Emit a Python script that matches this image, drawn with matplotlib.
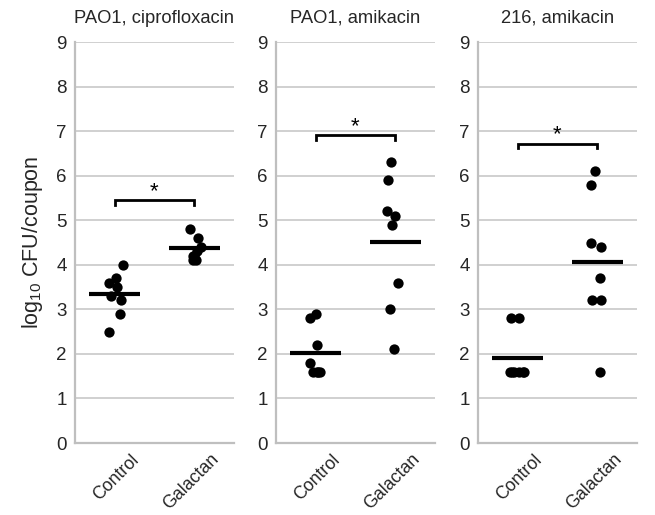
import matplotlib
matplotlib.use("Agg")
import matplotlib.pyplot as plt
import numpy as np

plt.rcParams['font.family'] = ['Liberation Sans', 'DejaVu Sans']
plt.rcParams['mathtext.fontset'] = 'custom'
plt.rcParams['mathtext.rm'] = 'Liberation Sans'
plt.rcParams['mathtext.it'] = 'Liberation Sans:italic'
plt.rcParams['mathtext.bf'] = 'Liberation Sans:bold'

titles = ["PAO1, ciprofloxacin", "PAO1, amikacin", "216, amikacin"]
categories = ["Control", "Galactan"]
cat_pos = [0.5, 1.5]

# per panel: control values / x offsets, galactan values / x offsets
ctrl_vals = [
    [2.5, 2.9, 3.2, 3.3, 3.5, 3.6, 3.7, 4.0],
    [2.8, 2.9, 2.2, 1.8, 1.6, 1.6, 1.6, 1.6],
    [2.8, 2.8, 1.6, 1.6, 1.6, 1.6, 1.6, 1.6],
]
ctrl_x = [
    [0.43, 0.56, 0.58, 0.45, 0.53, 0.43, 0.52, 0.60],
    [0.43, 0.50, 0.52, 0.43, 0.47, 0.51, 0.55, 0.53],
    [0.41, 0.52, 0.40, 0.45, 0.52, 0.58, 0.43, 0.56],
]
gal_vals = [
    [4.8, 4.6, 4.4, 4.2, 4.1, 4.1, 4.3, 4.2],
    [6.3, 5.9, 5.2, 5.1, 4.9, 3.6, 3.0, 2.1],
    [6.1, 5.8, 4.5, 4.4, 3.7, 3.2, 3.2, 1.6],
]
gal_x = [
    [1.45, 1.55, 1.58, 1.49, 1.48, 1.52, 1.54, 1.50],
    [1.45, 1.41, 1.40, 1.50, 1.46, 1.53, 1.43, 1.49],
    [1.47, 1.42, 1.42, 1.55, 1.54, 1.43, 1.55, 1.54],
]
ctrl_means = [3.34, 2.02, 1.91]
gal_means = [4.37, 4.51, 4.07]
bracket_y = [5.45, 6.91, 6.72]

lefts = [75/655, 276/655, 478/655]
bottom = (515-443)/515
width = 159/655
height = 401/515

fig = plt.figure(figsize=(6.55, 5.15), dpi=100)
gray = '#bfbfbf'
txt = '#262626'
for i in range(3):
    ax = fig.add_axes([lefts[i], bottom, width, height])
    ax.set_xlim(0, 2)
    ax.set_ylim(0, 9)
    ax.set_yticks(range(0, 10))
    ax.yaxis.grid(True, color='#c8c8c8', linewidth=1.2)
    ax.set_axisbelow(True)
    for s in ['top', 'right']:
        ax.spines[s].set_visible(False)
    for s in ['left', 'bottom']:
        ax.spines[s].set_color(gray)
        ax.spines[s].set_linewidth(1.6)
    ax.tick_params(length=0, labelsize=13.5, colors=txt, pad=6)
    ax.set_xticks(cat_pos)
    ax.set_xticklabels([])
    for xp, cat in zip(cat_pos, categories):
        ax.annotate(cat, xy=(xp, 0), xycoords=('data', 'axes fraction'),
                    xytext=(15.8, -10), textcoords='offset points',
                    rotation=45, ha='right', va='center', rotation_mode='anchor',
                    fontsize=12.8, color=txt, annotation_clip=False)
    ax.set_title(titles[i], fontsize=13.2, color=txt, pad=14)
    ax.scatter(ctrl_x[i], ctrl_vals[i], s=55, color='black', zorder=3, linewidths=0)
    ax.scatter(gal_x[i], gal_vals[i], s=55, color='black', zorder=3, linewidths=0)
    ax.plot([0.18, 0.82], [ctrl_means[i]]*2, color='black', lw=3.0, zorder=4, solid_capstyle='butt')
    ax.plot([1.18, 1.82], [gal_means[i]]*2, color='black', lw=3.0, zorder=4, solid_capstyle='butt')
    by = bracket_y[i]
    ax.plot([0.5, 0.5, 1.5, 1.5], [by-0.11, by, by, by-0.11], color='black', lw=2.0,
            solid_joinstyle='miter', zorder=4)
    ax.text(1.0, by - 0.04, '*', ha='center', va='bottom', fontsize=16, color='black')
    if i == 0:
        ax.set_ylabel(r'log$_{\mathrm{10}}$ CFU/coupon', fontsize=15.5, color=txt, labelpad=8)

fig.savefig('out.png', dpi=100)
